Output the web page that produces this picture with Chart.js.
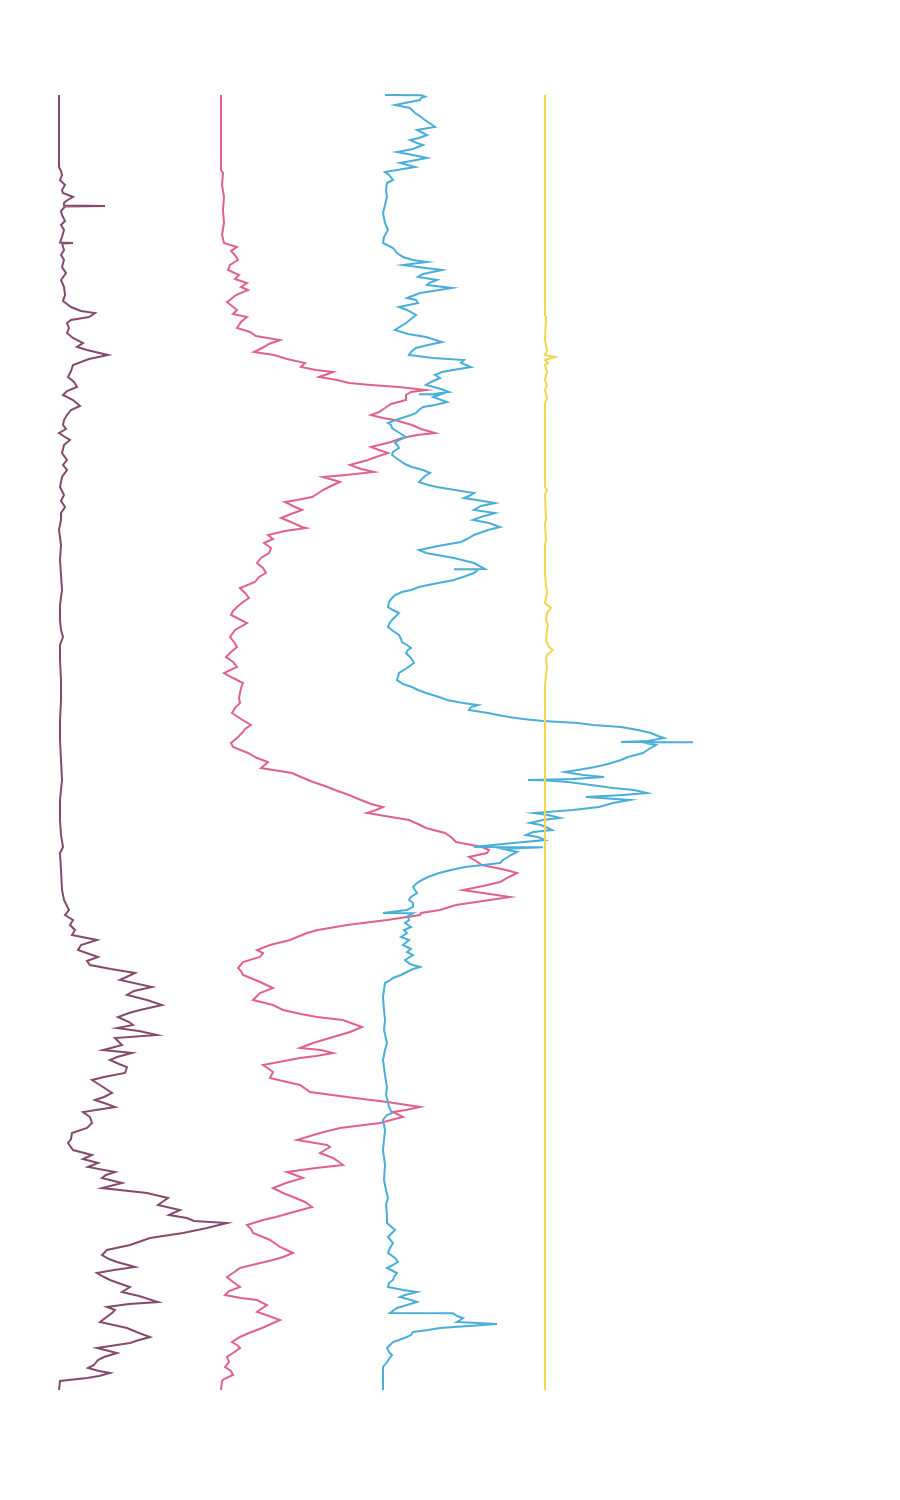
<!DOCTYPE html>
<html>
<head>
<meta charset="utf-8">
<title>Log curves</title>
<script src="https://cdn.jsdelivr.net/npm/chart.js@4.4.1/dist/chart.umd.min.js"></script>
<style>
  html, body { margin: 0; padding: 0; background: #fff; }
  .chart-box { position: relative; width: 900px; height: 1500px; }
</style>
</head>
<body>
<div class="chart-box"><canvas id="logChart"></canvas></div>
<script>
// =============================
// DATA: [depth, reading] per curve
// =============================
const curve1 = [[0,0],[72,0],[76,2],[80,3],[85,1],[90,6],[95,3],[98,4],[102,14],[106,7],[108,5],[110.5,5],[111,46],[111.5,6],[116,2],[120,3],[126,6],[130,2],[135,5],[142,3],[147.5,1],[148,14],[148.5,3],[155,5],[160,2],[165,5],[172,3],[178,7],[185,2],[192,5],[200,6],[206,4],[212,12],[216,22],[218,36],[222,30],[225,12],[228,8],[233,10],[238,8],[243,14],[248,24],[252,18],[255,28],[260,49],[264,30],[270,14],[276,12],[282,9],[287,15],[292,18],[296,8],[300,4],[305,14],[311,21],[315,12],[320,8],[325,5],[330,4],[334,7],[338,0],[342,6],[345,11],[350,5],[358,3],[365,8],[370,4],[375,8],[382,3],[392,1],[400,5],[406,2],[412,6],[418,2],[425,2],[435,0],[450,2],[465,1],[480,2],[495,3],[510,1],[525,1],[535,2],[542,4],[550,1],[565,1],[585,2],[605,2],[625,1],[645,1],[665,2],[685,3],[705,1],[725,1],[740,2],[752,4],[758,1],[775,2],[795,3],[805,5],[815,10],[820,6],[825,14],[830,11],[835,16],[840,13],[845,38],[850,22],[855,19],[862,39],[866,28],[870,31],[874,52],[878,76],[885,61],[892,93],[896,75],[900,68],[905,88],[910,103],[915,81],[918,70],[922,59],[927,70],[930,74],[933,58],[936,80],[940,98],[943,56],[950,63],[953,52],[955,44],[958,73],[962,58],[965,51],[969,60],[972,68],[978,66],[982,45],[985,33],[992,44],[998,53],[1002,45],[1005,36],[1009,48],[1012,56],[1017,24],[1022,31],[1028,33],[1033,28],[1038,13],[1044,12],[1048,9],[1055,14],[1060,33],[1064,24],[1068,39],[1072,29],[1077,56],[1080,47],[1083,43],[1088,63],[1093,43],[1098,88],[1103,109],[1110,99],[1115,121],[1120,110],[1123,128],[1126,135],[1128,168],[1130,160],[1133,148],[1138,124],[1143,91],[1150,71],[1155,48],[1160,43],[1164,50],[1167,58],[1172,76],[1175,55],[1178,38],[1182,45],[1185,51],[1189,62],[1192,71],[1197,63],[1201,80],[1207,99],[1209,70],[1212,48],[1215,56],[1218,53],[1224,45],[1227,41],[1233,68],[1238,80],[1242,91],[1245,80],[1248,71],[1253,38],[1256,50],[1258,58],[1262,45],[1265,39],[1270,35],[1273,29],[1276,40],[1278,51],[1281,40],[1283,28],[1286,1],[1295,0]];

const curve2 = [[0,0],[75,0],[78,2],[90,1],[102,3],[115,2],[128,3],[140,1],[148,3],[152,16],[156,10],[160,14],[165,17],[170,9],[175,7],[180,18],[184,14],[188,26],[192,20],[195,27],[200,15],[205,9],[207,6],[211,11],[215,16],[219,12],[222,26],[227,20],[233,16],[237,29],[241,35],[245,59],[249,48],[252,43],[257,33],[260,53],[264,66],[268,84],[272,80],[275,95],[277,112],[280,104],[282,98],[285,116],[288,128],[290,150],[292,178],[295,205],[297,190],[300,185],[305,185],[309,170],[313,164],[317,158],[320,150],[323,162],[325,174],[330,191],[334,200],[338,214],[340,196],[343,181],[347,170],[352,150],[355,158],[358,167],[362,155],[365,147],[370,129],[374,140],[377,153],[380,125],[382,102],[387,119],[391,110],[395,102],[399,96],[402,91],[405,76],[407,64],[411,72],[415,81],[419,70],[423,60],[427,70],[432,81],[433,85],[436,64],[440,47],[444,52],[448,43],[453,50],[458,48],[463,40],[468,36],[473,42],[478,45],[482,38],[487,34],[493,19],[498,24],[503,28],[507,22],[512,16],[516,12],[520,10],[524,18],[528,26],[535,14],[542,9],[547,13],[552,16],[557,10],[562,5],[567,12],[572,16],[578,3],[583,12],[588,22],[593,20],[598,19],[603,18],[608,19],[613,14],[618,11],[624,20],[630,30],[634,24],[638,21],[643,16],[648,10],[652,12],[658,27],[663,36],[667,47],[673,40],[678,71],[682,80],[687,92],[691,104],[695,114],[700,128],[705,140],[709,150],[712,162],[715,155],[718,146],[722,170],[725,188],[729,197],[733,205],[738,224],[742,230],[747,235],[752,261],[755,268],[758,266],[762,248],[766,255],[770,261],[775,285],[778,296],[782,288],[787,279],[791,262],[795,242],[798,262],[802,289],[806,262],[810,235],[815,219],[818,200],[820,199],[825,166],[830,126],[835,97],[838,86],[845,69],[850,49],[855,36],[858,42],[862,39],[867,22],[873,17],[876,20],[880,22],[884,32],[887,39],[893,52],[898,39],[905,32],[910,52],[915,62],[919,80],[922,96],[925,122],[928,130],[932,141],[937,129],[942,112],[948,92],[953,79],[955,100],[958,112],[961,95],[963,79],[967,58],[970,42],[974,48],[977,52],[983,49],[987,66],[990,79],[997,89],[1002,126],[1007,166],[1012,199],[1015,185],[1017,172],[1022,182],[1025,170],[1028,159],[1033,119],[1038,99],[1045,76],[1050,106],[1052,109],[1055,104],[1058,99],[1063,112],[1067,118],[1070,122],[1073,95],[1077,66],[1080,74],[1083,82],[1088,65],[1093,52],[1098,62],[1102,72],[1107,84],[1112,91],[1115,80],[1118,69],[1122,55],[1125,42],[1130,26],[1134,30],[1138,32],[1142,42],[1145,49],[1152,59],[1158,72],[1162,62],[1165,52],[1169,35],[1173,19],[1178,12],[1182,6],[1187,12],[1192,19],[1196,8],[1200,4],[1203,20],[1205,36],[1210,46],[1214,40],[1217,36],[1221,48],[1225,59],[1229,50],[1233,41],[1238,28],[1242,19],[1247,11],[1250,16],[1253,19],[1258,12],[1262,6],[1267,8],[1272,4],[1276,10],[1280,12],[1284,3],[1286,1],[1295,0]];

const curve3 = [[0,2],[0.3,38],[1.5,42],[3,38],[5,37],[8,22],[10,12],[13,27],[18,32],[22,38],[25,42],[29,48],[32,52],[35,34],[38,40],[40,44],[43,36],[45,27],[48,34],[50,40],[54,30],[57,14],[60,30],[63,44],[66,28],[68,17],[72,32],[74,20],[77,2],[80,6],[85,10],[88,4],[95,3],[102,4],[110,2],[118,0],[128,2],[135,5],[142,1],[148,0],[153,10],[158,14],[162,20],[165,30],[167,44],[170,20],[172,35],[175,59],[179,40],[182,35],[185,54],[188,46],[190,44],[193,69],[196,50],[198,37],[203,24],[205,33],[208,35],[212,16],[215,24],[220,33],[224,28],[228,23],[235,12],[239,25],[242,43],[247,59],[250,45],[253,33],[257,28],[260,26],[263,50],[265,81],[268,78],[272,88],[275,70],[277,59],[280,52],[283,57],[287,48],[290,43],[294,58],[297,66],[299,50],[299.3,36],[299.6,57],[302,50],[307,64],[310,52],[312,40],[315,36],[318,33],[320,28],[323,19],[326,10],[328,5],[330,8],[333,9],[337,15],[342,23],[345,16],[348,12],[350,14],[353,16],[357,10],[360,9],[363,13],[365,16],[369,22],[372,29],[375,40],[378,47],[381,42],[387,36],[390,45],[392,54],[395,72],[398,91],[401,86],[403,81],[406,100],[408,112],[411,98],[415,91],[418,112],[422,98],[425,90],[428,106],[432,117],[435,105],[440,91],[444,84],[447,78],[451,55],[455,36],[458,43],[463,71],[468,91],[474,102],[474.3,71],[474.6,95],[478,91],[482,80],[485,71],[489,50],[492,36],[495,28],[497,19],[500,12],[503,9],[507,6],[512,5],[515,10],[518,16],[522,12],[525,9],[529,6],[532,5],[536,10],[540,16],[544,18],[547,19],[550,24],[553,28],[555,25],[558,23],[563,28],[568,31],[573,24],[578,16],[582,15],[585,14],[589,20],[592,29],[595,35],[598,43],[602,56],[605,64],[608,80],[610,95],[612,88],[615,86],[618,105],[620,115],[622,126],[624,140],[626,160],[627,177],[628,195],[630,210],[632,238],[635,255],[638,268],[641,275],[643,281],[646,265],[647,238],[647.3,310],[647.6,260],[650,273],[654,266],[658,260],[662,245],[665,238],[669,225],[672,212],[675,195],[677,182],[680,200],[682,221],[684,190],[685,145],[685.3,160],[687,185],[690,208],[693,230],[695,251],[698,264],[700,240],[702,203],[705,247],[708,230],[712,216],[715,190],[718,151],[720,165],[723,177],[725,160],[728,147],[730,158],[733,165],[735,169],[737,150],[740,143],[742,155],[745,162],[748,130],[750,110],[752,91],[752.3,160],[754,120],[757,134],[760,128],[762,125],[765,120],[768,117],[770,100],[772,82],[775,68],[778,56],[782,45],[785,39],[788,34],[792,30],[795,32],[798,34],[802,28],[805,26],[808,30],[812,30],[815,24],[818,0],[818.3,30],[821,25],[825,26],[828,22],[832,28],[835,21],[838,24],[842,18],[845,26],[850,20],[854,28],[857,24],[860,30],[865,22],[869,27],[872,37],[874,30],[877,24],[880,18],[883,10],[886,6],[888,2],[895,1],[902,0],[915,1],[925,2],[935,1],[948,4],[955,2],[965,0],[980,2],[992,4],[1000,3],[1007,5],[1012,6],[1018,9],[1020,4],[1025,0],[1035,2],[1045,1],[1055,0],[1070,2],[1085,1],[1095,3],[1103,5],[1110,3],[1120,4],[1128,4],[1135,12],[1139,8],[1142,5],[1148,10],[1153,7],[1158,5],[1163,12],[1167,15],[1171,8],[1173,4],[1176,10],[1178,14],[1182,11],[1185,10],[1188,6],[1192,5],[1195,20],[1197,34],[1200,22],[1202,17],[1205,28],[1207,34],[1210,24],[1213,14],[1218,7],[1218.3,70],[1221,74],[1223,80],[1226,76],[1227,74],[1229,114],[1230,100],[1233,57],[1235,45],[1237,30],[1240,28],[1242,24],[1245,16],[1247,10],[1250,7],[1253,4],[1257,6],[1260,9],[1264,6],[1267,4],[1272,0],[1295,0]];

const curve4 = [[0,0],[220,0],[222,1],[245,0],[255,2],[260,0],[262,10],[265,0],[268,3],[270,0],[277,2],[285,0],[290,2],[295,0],[303,2],[308,0],[392,0],[395,2],[400,0],[425,1],[428,0],[445,1],[450,0],[478,0],[490,1],[498,2],[508,0],[513,6],[518,2],[525,1],[530,3],[535,2],[545,1],[552,4],[555,8],[560,2],[565,1],[572,2],[580,1],[590,0],[605,0],[1295,0]];

const curveColors = ["#854a6e", "#e0628a", "#4baed8", "#f2d650"];

// =============================
// Layout of the tracks
// =============================
const trackOffsets = [0, 162, 324, 486];

function toPoints(curve, offset) {
  return curve.map(([depth, value]) => ({ x: offset + value, y: depth }));
}

const curves = [curve1, curve2, curve3, curve4];

// =============================
// Chart
// =============================
new Chart(document.getElementById("logChart"), {
  type: "scatter",
  data: {
    datasets: curves.map((curve, i) => ({
      data: toPoints(curve, trackOffsets[i]),
      showLine: true,
      borderColor: curveColors[i],
      backgroundColor: curveColors[i],
      borderWidth: 2,
      pointRadius: 0,
      tension: 0,
      order: curves.length - i
    }))
  },
  options: {
    responsive: true,
    maintainAspectRatio: false,
    animation: false,
    layout: { padding: 0 },
    plugins: { legend: { display: false }, tooltip: { enabled: false } },
    scales: {
      x: { type: "linear", display: false, min: -59, max: 841 },
      y: { type: "linear", display: false, reverse: true, min: -95, max: 1405 }
    }
  }
});
</script>
</body>
</html>
